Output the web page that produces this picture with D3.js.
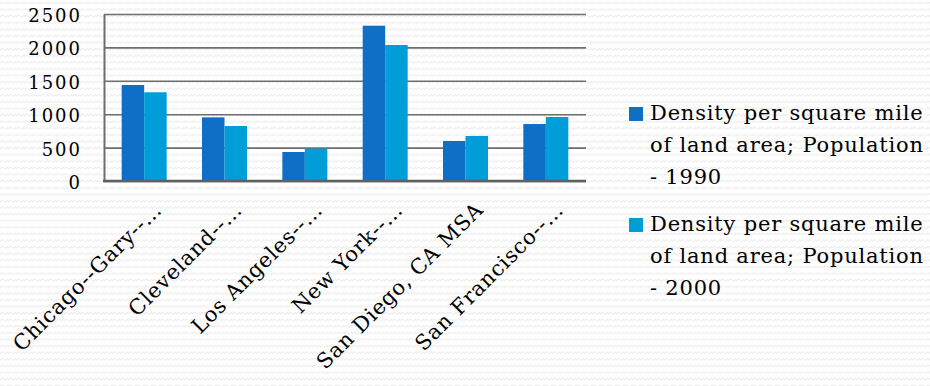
<!DOCTYPE html>
<html><head><meta charset="utf-8">
<script src="https://cdn.jsdelivr.net/npm/d3@7/dist/d3.min.js"></script>
<style>
html,body{margin:0;padding:0;background:#fff;}
svg{display:block;}
</style></head>
<body>
<svg id="chart" width="930" height="386"></svg>
<script>
const categories = ["Chicago--Gary--…","Cleveland--…","Los Angeles--…","New York--…","San Diego, CA MSA","San Francisco--…"];
const values1990 = [1437, 953, 434, 2325, 599, 853];
const values2000 = [1328, 823, 484, 2036, 674, 958];
const seriesNames = ["Density per square mile of land area; Population - 1990","Density per square mile of land area; Population - 2000"];
const legendLines = [["Density per square mile","of land area; Population","- 1990"],["Density per square mile","of land area; Population","- 2000"]];
const yTicks = [0, 500, 1000, 1500, 2000, 2500];
const colors = ["#0F6FC6", "#009DD9"];

const svg = d3.select("#chart");
const FONT = "'DejaVu Serif', 'Liberation Serif', serif";

// background pattern
const defs = svg.append("defs");
const pat = defs.append("pattern").attr("id","wave").attr("patternUnits","userSpaceOnUse")
  .attr("width",8).attr("height",6.6);
pat.append("path").attr("d","M0,4 Q2,1 4,3 T8,2").attr("fill","none").attr("stroke","#ebebeb").attr("stroke-width",1);
svg.append("rect").attr("width",930).attr("height",386).attr("fill","#fff");
svg.append("rect").attr("width",930).attr("height",386).attr("fill","url(#wave)");

const mLeft = 104, mRight = 586, mTop = 14, mBottom = 181;
const x = d3.scaleBand().domain(categories).range([mLeft, mRight]).paddingInner(0.44).paddingOuter(0.22);
const y = d3.scaleLinear().domain([0, 2500]).range([mBottom, mTop]);

// gridlines
const grid = svg.append("g").attr("transform",`translate(${mLeft},0)`)
  .call(d3.axisLeft(y).tickValues(yTicks).tickSize(-(mRight-mLeft)).tickFormat(""));
grid.select(".domain").remove();
grid.selectAll("line").attr("stroke","#6e6e6e").attr("stroke-width",1.6);

// bars
const x1 = d3.scaleBand().domain([0,1]).range([0, x.bandwidth()]);
const seriesData = [values1990, values2000];
const g = svg.append("g");
seriesData.forEach((vals, si) => {
  g.selectAll(null).data(vals).enter().append("rect")
    .attr("x",(d,i)=>x(categories[i]) + x1(si))
    .attr("y",d=>y(d))
    .attr("width",x1.bandwidth())
    .attr("height",d=>y(0)-y(d))
    .attr("fill",colors[si]);
});

// y axis
const yAxis = svg.append("g").attr("transform",`translate(${mLeft},0)`)
  .call(d3.axisLeft(y).tickValues(yTicks).tickSize(0).tickPadding(22).tickFormat(d3.format("d")));
yAxis.select(".domain").attr("stroke","#6e6e6e").attr("stroke-width",2);
yAxis.selectAll("text").attr("font-family",FONT).attr("font-size",18).attr("letter-spacing","2px")
  .attr("dy","0.42em").attr("fill","#000");

// x axis
const xAxis = svg.append("g").attr("transform",`translate(0,${mBottom})`)
  .call(d3.axisBottom(x).tickSize(0).tickFormat(""));
xAxis.select(".domain").attr("stroke","#606060").attr("stroke-width",2.4).attr("d",`M${mLeft-1},0H${mRight}`);
xAxis.selectAll(".tick").append("text")
  .attr("transform","translate(19,30) rotate(-45)")
  .attr("text-anchor","end")
  .attr("font-family",FONT).attr("font-size",21).attr("letter-spacing","0.8px").attr("fill","#000")
  .text(d=>d);

// legend
const lg = svg.append("g");
const legendTop = [107, 218];
legendLines.forEach((lines, si) => {
  lg.append("rect").attr("x",629).attr("y",legendTop[si]).attr("width",14).attr("height",14).attr("fill",colors[si]);
  lines.forEach((t, li) => {
    lg.append("text").attr("x",650).attr("y",legendTop[si]+13+li*32)
      .attr("font-family",FONT).attr("font-size",21).attr("letter-spacing","0.8px").attr("fill","#000").text(t);
  });
});
</script>
</body></html>
